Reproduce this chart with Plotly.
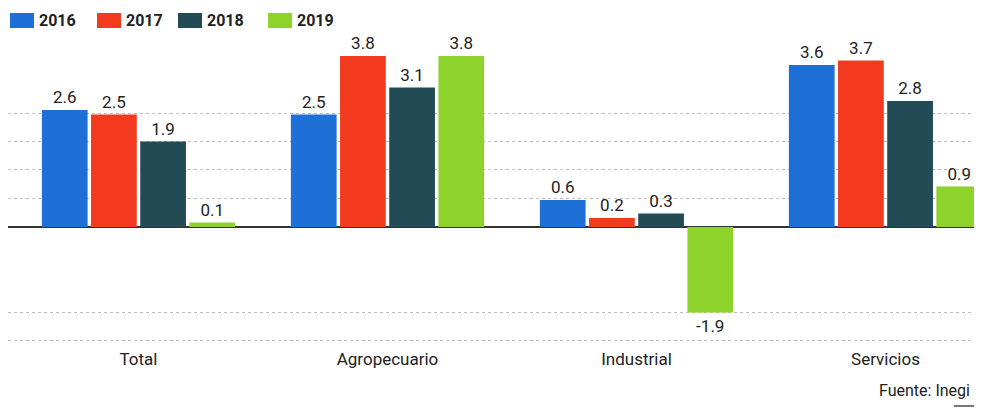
import plotly.graph_objects as go

categories = ["Total", "Agropecuario", "Industrial", "Servicios"]
years = ["2016", "2017", "2018", "2019"]
values_2016 = [2.6, 2.5, 0.6, 3.6]
values_2017 = [2.5, 3.8, 0.2, 3.7]
values_2018 = [1.9, 3.1, 0.3, 2.8]
values_2019 = [0.1, 3.8, -1.9, 0.9]
grid_values = [-2.53, -1.9, 0.633, 1.267, 1.9, 2.533]
source_text = "Fuente: Inegi"

colors = ["#1e6fd6", "#f23a1f", "#234b56", "#8ed22c"]
series = [values_2016, values_2017, values_2018, values_2019]

# page body has an 8px offset; figure coordinates below are relative to the figure
W, H = 966, 400
left, right, top, bottom = 0, 0, 32, 61
plot_w = W - left - right
plot_h = H - top - bottom
px_per_cat = 249
center0 = 130.5
x0 = -(center0 - left) / px_per_cat
x1 = (W - right - center0) / px_per_cat
zero_px = 219
px_per_unit = 45
y_top = (zero_px - top) / px_per_unit
y_bot = -((H - bottom) - zero_px) / px_per_unit


def px_x(px):
    return (px - left) / plot_w


def px_y(py):
    return (H - bottom - py) / plot_h


fig = go.Figure()
for name, vals, col in zip(years, series, colors):
    fig.add_trace(go.Bar(
        x=categories, y=vals, name=name,
        marker=dict(color=col, line=dict(width=0)),
        text=[f"{v:.1f}" for v in vals],
        textposition="outside",
        textfont=dict(family="Roboto", size=17, color="#222"),
        cliponaxis=False,
        showlegend=False,
    ))

fig.update_layout(
    width=W, height=H,
    margin=dict(l=left, r=right, t=top, b=bottom),
    paper_bgcolor="white", plot_bgcolor="white",
    barmode="group", bargap=0.21, bargroupgap=0.07,
    font=dict(family="Roboto", color="#222"),
    xaxis=dict(
        range=[x0, x1], showgrid=False, showline=False, ticks="",
        tickfont=dict(family="Roboto", size=17, color="#222"),
    ),
    yaxis=dict(
        range=[y_bot, y_top], tickvals=grid_values, showticklabels=False,
        showgrid=True, gridcolor="#bdbdbd", griddash="dot", gridwidth=1,
        zeroline=True, zerolinecolor="#333", zerolinewidth=1.5,
    ),
)

# custom legend with wide swatches
legend_x = [2, 89, 170, 260]
for name, col, lx in zip(years, colors, legend_x):
    fig.add_shape(type="rect", xref="paper", yref="paper",
                  x0=px_x(lx), x1=px_x(lx + 24), y0=px_y(20), y1=px_y(5),
                  fillcolor=col, line=dict(width=0))
    fig.add_annotation(text=f"<b>{name}</b>", xref="paper", yref="paper",
                       x=px_x(lx + 27), y=px_y(12.5), xanchor="left", yanchor="middle",
                       showarrow=False,
                       font=dict(family="Roboto", size=16, color="#222"))

fig.add_annotation(
    text=source_text, xref="paper", yref="paper",
    x=px_x(964), y=px_y(382),
    xanchor="right", yanchor="middle", showarrow=False,
    font=dict(family="Roboto", size=16, color="#222"),
)
fig.add_shape(type="line", xref="paper", yref="paper",
              x0=px_x(946), x1=1.0,
              y0=px_y(398), y1=px_y(398), line=dict(color="#777", width=2))

fig.write_html("out.html")
